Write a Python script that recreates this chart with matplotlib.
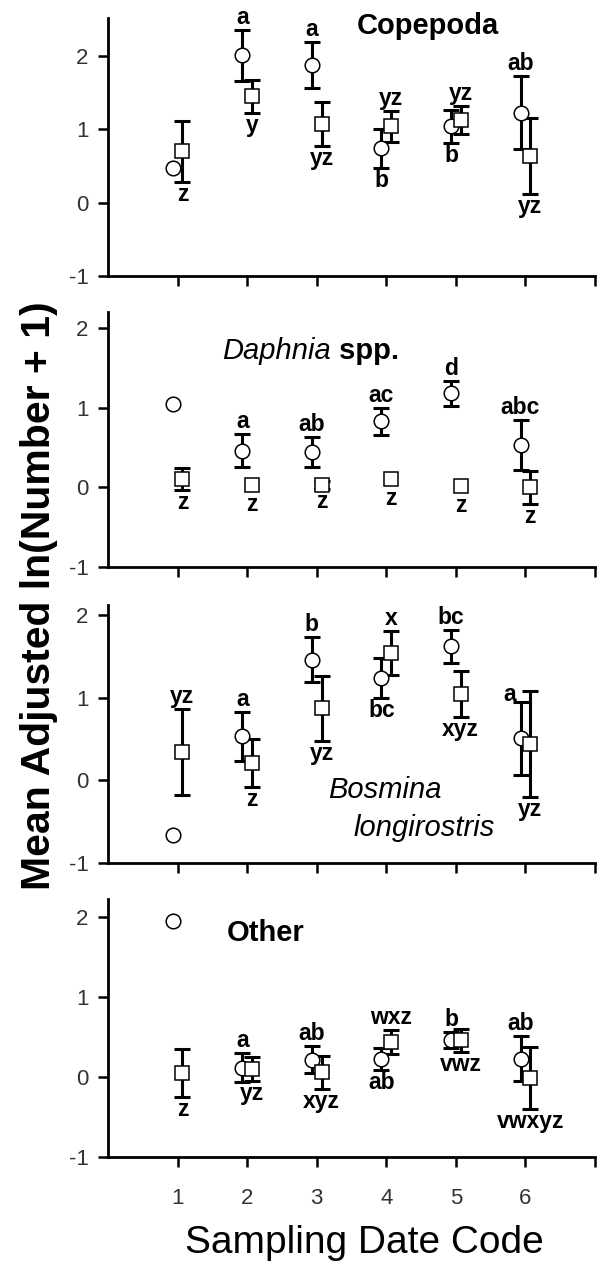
import numpy as np
import matplotlib
matplotlib.use('Agg')
from matplotlib import pyplot as plt

plt.rcParams['font.family'] = ['Liberation Sans', 'DejaVu Sans']
plt.rcParams['axes.unicode_minus'] = False

nan = float('nan')
dates = np.array([1, 2, 3, 4, 5, 6])

# Copepoda
cop_circ = [0.48, 2.01, 1.88, 0.74, 1.04, 1.23]
cop_circ_err = [nan, 0.35, 0.31, 0.27, 0.23, 0.50]
cop_circ_lab = ['', 'a', 'a', 'b', 'b', 'ab']
cop_circ_pos = ['', 'up', 'up', 'down', 'down', 'up']
cop_sq = [0.70, 1.45, 1.08, 1.04, 1.13, 0.64]
cop_sq_err = [0.42, 0.22, 0.30, 0.21, 0.19, 0.52]
cop_sq_lab = ['z', 'y', 'yz', 'yz', 'yz', 'yz']
cop_sq_pos = ['down', 'down', 'down', 'up', 'up', 'down']

# Daphnia spp.
dap_circ = [1.05, 0.46, 0.44, 0.83, 1.18, 0.53]
dap_circ_err = [nan, 0.21, 0.19, 0.17, 0.16, 0.31]
dap_circ_lab = ['', 'a', 'ab', 'ac', 'd', 'abc']
dap_circ_pos = ['', 'up', 'up', 'up', 'up', 'up']
dap_sq = [0.10, 0.03, 0.03, 0.10, 0.02, 0.00]
dap_sq_err = [0.14, nan, 0.05, nan, nan, 0.21]
dap_sq_lab = ['z', 'z', 'z', 'z', 'z', 'z']
dap_sq_pos = ['down'] * 6

# Bosmina longirostris
bos_circ = [-0.66, 0.53, 1.46, 1.24, 1.62, 0.51]
bos_circ_err = [nan, 0.30, 0.27, 0.24, 0.20, 0.44]
bos_circ_lab = ['', 'a', 'b', 'bc', 'bc', 'a']
bos_circ_pos = ['', 'up', 'up', 'down', 'up', 'left']
bos_sq = [0.34, 0.21, 0.87, 1.54, 1.04, 0.44]
bos_sq_err = [0.52, 0.29, 0.39, 0.27, 0.28, 0.64]
bos_sq_lab = ['yz', 'z', 'yz', 'x', 'xyz', 'yz']
bos_sq_pos = ['up', 'down', 'down', 'up', 'down', 'down']

# Other
oth_circ = [1.95, 0.12, 0.22, 0.23, 0.47, 0.23]
oth_circ_err = [nan, 0.18, 0.17, 0.14, 0.10, 0.28]
oth_circ_lab = ['', 'a', 'ab', 'ab', 'b', 'ab']
oth_circ_pos = ['', 'up', 'up', 'down', 'up', 'up']
oth_sq = [0.05, 0.10, 0.06, 0.44, 0.46, -0.01]
oth_sq_err = [0.30, 0.15, 0.21, 0.15, 0.14, 0.39]
oth_sq_lab = ['z', 'yz', 'xyz', 'wxz', 'vwz', 'vwxyz']
oth_sq_pos = ['down', 'down', 'down', 'up', 'down', 'down']


def draw_series(ax, x, y, err, labels, where, marker):
    ax.errorbar(x, y, yerr=err, fmt='none', ecolor='black', elinewidth=2.2,
                capsize=6, capthick=2.2, zorder=2)
    ax.plot(x, y, linestyle='none', marker=marker, ms=10.5, mfc='white',
            mec='black', mew=1.1, zorder=3)
    for xi, yi, ei, lab, w in zip(x, y, err, labels, where):
        if not lab:
            continue
        e = 0 if np.isnan(ei) else ei
        off = 9 if e else 14
        dx = 0
        if w == 'left':
            # label squeezed to the upper left of the cap
            yy, dy, dx = yi + e, 5, -8
        elif w == 'up':
            yy, dy = yi + e, off
        else:
            yy, dy = yi - e, -off
        ax.annotate(lab, (xi, yy), xytext=(dx, dy), textcoords='offset points',
                    ha='center', va='center', fontsize=16.5, fontweight='bold',
                    zorder=4)


fig = plt.figure(figsize=(6.08, 12.72), dpi=100)

left, width = 108 / 608, 487 / 608
panels = [
    (18, 276, 2.52, cop_circ, cop_circ_err, cop_circ_lab, cop_circ_pos,
     cop_sq, cop_sq_err, cop_sq_lab, cop_sq_pos),
    (312, 567, 2.2, dap_circ, dap_circ_err, dap_circ_lab, dap_circ_pos,
     dap_sq, dap_sq_err, dap_sq_lab, dap_sq_pos),
    (605, 863, 2.12, bos_circ, bos_circ_err, bos_circ_lab, bos_circ_pos,
     bos_sq, bos_sq_err, bos_sq_lab, bos_sq_pos),
    (899, 1157, 2.23, oth_circ, oth_circ_err, oth_circ_lab, oth_circ_pos,
     oth_sq, oth_sq_err, oth_sq_lab, oth_sq_pos),
]

axes = []
for i, (top, bot, ymax, c, ce, cl, cp, s, se, sl, sp) in enumerate(panels):
    ax = fig.add_axes([left, 1 - bot / 1272, width, (bot - top) / 1272])
    axes.append(ax)
    draw_series(ax, dates - 0.07, c, ce, cl, cp, 'o')
    draw_series(ax, dates + 0.07, s, se, sl, sp, 's')
    ax.set_xlim(0, 7)
    ax.set_ylim(-1, ymax)
    ax.set_yticks([-1, 0, 1, 2])
    ax.set_xticks([1, 2, 3, 4, 5, 6, 7])
    for side in ('top', 'right'):
        ax.spines[side].set_visible(False)
    for side in ('left', 'bottom'):
        ax.spines[side].set_linewidth(2.0)
    ax.tick_params(direction='out', length=7, width=1.8, labelsize=16,
                   labelcolor='#333333')
    ax.tick_params(axis='y', pad=7)
    ax.tick_params(axis='x', pad=15)
    if i < 3:
        ax.set_xticklabels([])
    else:
        ax.set_xticklabels(['1', '2', '3', '4', '5', '6', ''])

axes[0].text(3.57, 2.41, 'Copepoda', fontsize=21, fontweight='bold',
             ha='left', va='center')
t1 = axes[1].text(1.64, 1.71, 'Daphnia', fontsize=21, style='italic',
                  ha='left', va='center')
axes[1].annotate(' spp.', xy=(1, 0), xycoords=t1, fontsize=21,
                 fontweight='bold', ha='left', va='bottom')
axes[2].text(3.17, -0.12, 'Bosmina', fontsize=21, style='italic',
             ha='left', va='center')
axes[2].text(3.53, -0.58, 'longirostris', fontsize=21, style='italic',
             ha='left', va='center')
axes[3].text(1.71, 1.80, 'Other', fontsize=21, fontweight='bold',
             ha='left', va='center')

fig.text(39 / 608, 1 - 596 / 1272, 'Mean Adjusted ln(Number + 1)', fontsize=29.5,
         fontweight='bold', rotation=90, ha='center', va='center')
fig.text(364 / 608, 1 - 1243 / 1272, 'Sampling Date Code', fontsize=28,
         ha='center', va='center')

fig.savefig('out.png', dpi=100)
